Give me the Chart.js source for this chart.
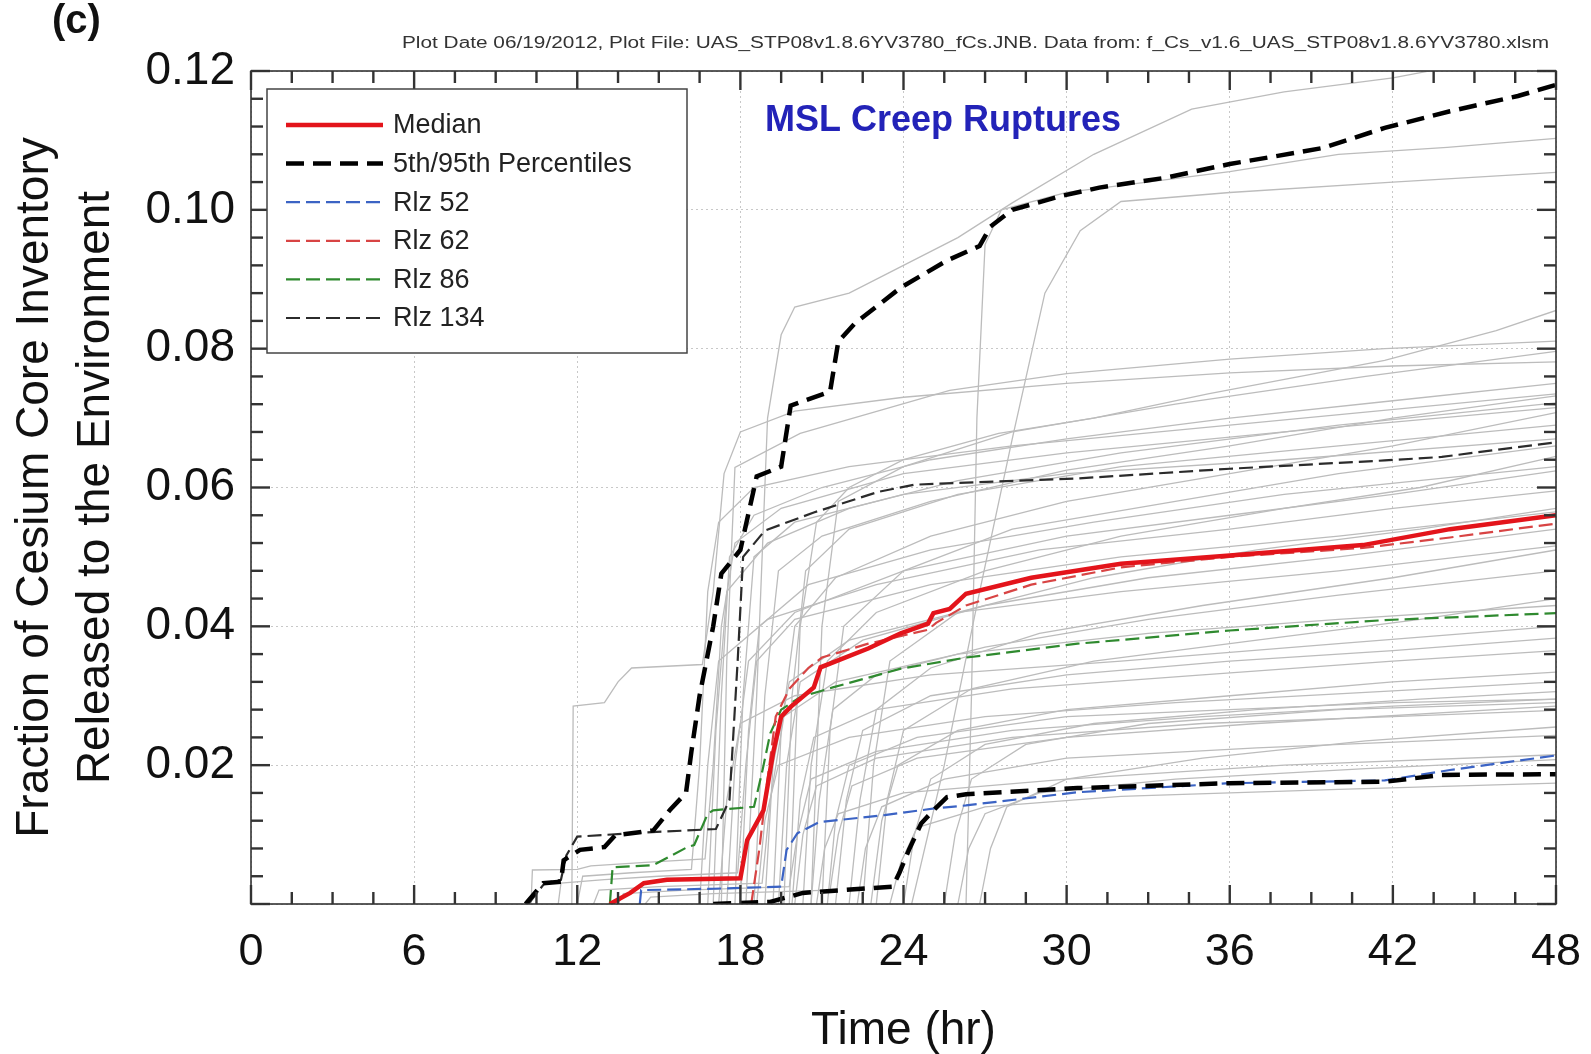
<!DOCTYPE html>
<html>
<head>
<meta charset="utf-8">
<title>MSL Creep Ruptures - Cesium release</title>
<script src="https://cdn.jsdelivr.net/npm/chart.js@4.4.1/dist/chart.umd.min.js"></script>
<style>
  html, body { margin: 0; padding: 0; background: #fff; }
  canvas { display: block; }
</style>
</head>
<body>
<canvas id="chart" width="1591" height="1054"></canvas>
<script>
// ==========================================
// DATA  (time in hr, fraction of Cs inventory released)
// ==========================================
const xTicks = [0, 6, 12, 18, 24, 30, 36, 42, 48];
const yTicks = [0.02, 0.04, 0.06, 0.08, 0.10, 0.12];

const median = [[13.2,0],[13.95,0.0016],[14.45,0.003],[15.3,0.0035],[18.0,0.0037],[18.25,0.0092],[18.85,0.0135],
  [19.2,0.0217],[19.5,0.027],[19.85,0.0284],[20.7,0.0312],[20.95,0.0341],[22.7,0.0368],[23.9,0.039],[24.9,0.0404],
  [25.1,0.0419],[25.7,0.0425],[26.3,0.0447],[28.7,0.047],[32.0,0.049],[36.0,0.0502],[40.9,0.0517],[44.1,0.054],[48,0.056]];

const pct95 = [[10.1,0],[10.75,0.003],[11.4,0.0032],[11.5,0.0063],[12.1,0.0078],[13.0,0.0082],[13.4,0.0099],[14.8,0.0106],
  [15.4,0.0135],[16.0,0.016],[16.2,0.022],[16.5,0.03],[17.0,0.04],[17.3,0.0476],[18.0,0.051],[18.6,0.0616],[19.5,0.063],
  [19.85,0.0718],[21.3,0.0738],[21.6,0.081],[22.2,0.0836],[23.9,0.0888],[25.6,0.0927],[26.8,0.0948],[27.2,0.0976],
  [28.0,0.100],[29.8,0.102],[31.2,0.1032],[33.6,0.1046],[36.0,0.1066],[38.4,0.1082],[39.4,0.1089],[41.7,0.1118],
  [44.1,0.1142],[46.6,0.1164],[48,0.118]];

const pct05 = [[17.0,0],[19.1,0.0003],[20.3,0.0016],[23.6,0.0025],[23.85,0.0045],[24.2,0.0078],[24.65,0.0116],[25.1,0.0135],
  [25.6,0.0154],[26.3,0.0158],[30.4,0.0167],[36,0.0174],[41.7,0.0176],[43.8,0.0186],[48,0.0187]];

const rlz52 = [[14.3,0],[14.35,0.002],[17,0.0022],[19.5,0.0025],[19.7,0.0078],[20.1,0.0102],[20.9,0.0118],[23.3,0.0128],
  [25.2,0.0138],[26.3,0.0142],[30.4,0.0161],[36.0,0.0174],[41.7,0.0178],[44.1,0.0193],[48,0.0214]];

const rlz62 = [[18.4,0],[18.7,0.008],[19.0,0.018],[19.3,0.027],[19.8,0.031],[20.5,0.034],[21,0.0355],[22.7,0.0375],
  [24.9,0.0395],[25.2,0.0405],[26.3,0.043],[28.7,0.046],[32,0.0485],[36,0.05],[40.9,0.0513],[44.1,0.0528],[48,0.0548]];

const rlz86 = [[13.2,0],[13.3,0.0053],[14.8,0.0056],[16.05,0.0082],[16.3,0.0085],[16.8,0.013],[17.0,0.0135],[18.5,0.014],
  [18.8,0.019],[19.1,0.0246],[19.5,0.028],[20.2,0.0298],[21.4,0.0312],[23.9,0.0339],[26.3,0.0355],[30.4,0.0375],
  [36.0,0.0394],[41.7,0.0409],[48,0.0419]];

const rlz134 = [[10.2,0],[10.8,0.003],[11.4,0.0035],[11.6,0.007],[12.0,0.0097],[14,0.0102],[17.1,0.0108],[17.6,0.015],
  [17.9,0.035],[18.1,0.05],[18.9,0.0538],[20.7,0.0564],[23.1,0.0594],[24.4,0.0604],[26.3,0.0607],[30.4,0.0613],
  [36,0.0627],[41.7,0.0639],[43.8,0.0644],[44.95,0.065],[48,0.0665]];

// other realizations (gray)
const grayRuns = [
  [[18.2,0],[18.6,0.03],[19.0,0.07],[19.5,0.082],[20,0.086],[22,0.088],[24,0.092],[26,0.096],[28,0.101],[31,0.108],[34.6,0.1145],[38,0.117],[42,0.119],[44,0.1205]],
  [[26.3,0],[26.5,0.03],[26.7,0.07],[27.0,0.095],[27.6,0.1],[30,0.1025],[36,0.1055],[40,0.108],[44,0.109],[48,0.1103]],
  [[24.3,0],[25.5,0.02],[26.8,0.045],[28,0.067],[29.2,0.088],[30.5,0.097],[32,0.1012],[36,0.1025],[42,0.104],[48,0.1054]],
  [[19.8,0],[20.2,0.04],[20.8,0.055],[22,0.06],[24,0.064],[27.5,0.0678],[31,0.07],[35.2,0.0735],[41.7,0.0783],[45.8,0.0826],[48,0.0855]],
  [[17.3,0],[17.5,0.035],[17.8,0.0629],[20.2,0.0678],[25.7,0.074],[30,0.0764],[36,0.0785],[41.7,0.08],[48,0.0811]],
  [[11.8,0],[11.85,0.0285],[13.0,0.029],[13.5,0.032],[14.0,0.034],[16.6,0.0345],[17.0,0.045],[17.4,0.062],[18,0.068],[20,0.071],[24,0.073],[30,0.075],[36,0.0765],[42,0.0775],[48,0.0781]],
  [[17.0,0],[17.3,0.03],[17.6,0.05],[18.5,0.056],[21,0.06],[25,0.064],[30,0.067],[36,0.07],[42,0.0725],[48,0.075]],
  [[18.5,0],[18.9,0.03],[19.4,0.048],[21,0.053],[25,0.058],[30,0.0625],[36,0.066],[42,0.07],[48,0.0732]],
  [[16.8,0],[17.1,0.025],[17.5,0.045],[19,0.052],[22,0.057],[26,0.061],[32,0.065],[40,0.069],[48,0.0722]],
  [[19.2,0],[19.5,0.025],[20,0.04],[21.5,0.047],[25,0.053],[30,0.058],[36,0.062],[42,0.066],[48,0.0708]],
  [[20.3,0],[20.6,0.02],[21.2,0.035],[23,0.042],[27,0.048],[32,0.053],[38,0.057],[43,0.06],[48,0.0645]],
  [[17.5,0],[17.8,0.02],[18.3,0.035],[20,0.042],[24,0.048],[30,0.053],[36,0.056],[42,0.059],[48,0.0624]],
  [[21,0],[21.3,0.025],[21.8,0.04],[24,0.048],[28,0.054],[34,0.058],[40,0.062],[48,0.066]],
  [[16.5,0],[16.8,0.02],[17.2,0.035],[19,0.041],[23,0.046],[29,0.051],[36,0.054],[42,0.057],[48,0.0595]],
  [[19.6,0],[19.9,0.03],[20.4,0.048],[22,0.054],[26,0.059],[32,0.063],[40,0.066],[48,0.069]],
  [[18.9,0],[19.2,0.02],[19.8,0.032],[22,0.038],[26,0.042],[32,0.045],[40,0.048],[48,0.0516]],
  [[22,0],[22.4,0.015],[23,0.028],[25,0.034],[29,0.039],[35,0.043],[42,0.047],[48,0.051]],
  [[20.6,0],[20.9,0.015],[21.4,0.028],[23,0.033],[27,0.037],[33,0.041],[40,0.0445],[48,0.048]],
  [[17.2,0],[17.5,0.015],[18,0.026],[20,0.03],[25,0.033],[32,0.035],[40,0.0375],[48,0.040]],
  [[21.5,0],[21.9,0.015],[22.5,0.025],[25,0.03],[30,0.033],[36,0.035],[42,0.0365],[48,0.0383]],
  [[19.9,0],[20.2,0.015],[20.7,0.024],[23,0.028],[28,0.031],[35,0.033],[42,0.035],[48,0.0365]],
  [[22.8,0],[23.2,0.012],[23.8,0.02],[26,0.025],[30,0.028],[36,0.03],[42,0.032],[48,0.0334]],
  [[18.6,0],[18.9,0.012],[19.4,0.02],[22,0.024],[27,0.027],[34,0.029],[41,0.0305],[48,0.032]],
  [[24,0],[24.4,0.01],[25,0.018],[27,0.023],[31,0.026],[37,0.028],[43,0.0295],[48,0.0306]],
  [[21.2,0],[21.5,0.012],[22,0.02],[24.5,0.024],[30,0.027],[36,0.028],[42,0.029],[48,0.0295]],
  [[25.5,0],[25.9,0.01],[26.5,0.018],[28.5,0.023],[33,0.026],[40,0.028],[48,0.029]],
  [[20.0,0],[20.3,0.01],[20.8,0.017],[23,0.021],[28,0.024],[35,0.026],[42,0.027],[48,0.0279]],
  [[22.3,0],[22.6,0.008],[23.2,0.014],[25.5,0.018],[30,0.021],[37,0.0225],[48,0.0243]],
  [[26.0,0],[26.4,0.008],[27,0.013],[29,0.016],[34,0.018],[41,0.0195],[48,0.0208]],
  [[23.5,0],[23.9,0.006],[24.5,0.011],[27,0.014],[32,0.0155],[40,0.0165],[48,0.0174]],
  [[20.8,0],[21.1,0.008],[21.6,0.013],[24,0.016],[30,0.018],[38,0.02],[48,0.0215]],
  [[18.0,0],[18.3,0.025],[18.7,0.04],[20.5,0.046],[25,0.051],[31,0.055],[38,0.059],[48,0.063]],
  [[17.8,0],[18.1,0.03],[18.5,0.05],[20,0.055],[24,0.059],[30,0.062],[38,0.064],[48,0.067]],
  [[20.6,0],[21,0.04],[21.6,0.058],[24,0.063],[28,0.068],[34,0.072],[41,0.076],[48,0.0796]],
  [[19.4,0],[19.7,0.02],[20.2,0.032],[22.5,0.038],[27,0.043],[33,0.047],[40,0.05],[48,0.054]],
  [[23,0],[23.4,0.015],[24,0.025],[26.5,0.031],[31,0.035],[37,0.038],[43,0.041],[48,0.044]],
  [[22.5,0],[22.9,0.02],[23.5,0.035],[26,0.042],[31,0.047],[37,0.051],[43,0.054],[48,0.057]],
  [[26.8,0],[27.2,0.008],[27.8,0.014],[30,0.018],[35,0.021],[41,0.0235],[48,0.0255]],
  [[10.3,0],[10.35,0.0049],[12,0.005],[12.5,0.0055],[14.5,0.006],[16.7,0.0065],[17.0,0.02],[17.3,0.04],[17.8,0.052],[19.5,0.057],[24,0.062],[30,0.065],[38,0.068],[48,0.0715]],
  [[11.3,0],[11.4,0.003],[13,0.0035],[15,0.004],[17.9,0.0045],[18.2,0.02],[18.6,0.035],[20,0.041],[25,0.046],[32,0.05],[40,0.053],[48,0.0565]],
  [[12.6,0],[12.8,0.002],[15,0.0025],[18.8,0.003],[19.1,0.015],[19.6,0.027],[21.5,0.032],[26,0.036],[33,0.039],[40,0.041],[48,0.043]],
  [[13.5,0],[13.7,0.0015],[16,0.002],[19.8,0.0025],[20.1,0.01],[20.6,0.018],[23,0.022],[28,0.025],[35,0.027],[42,0.0285],[48,0.0295]],
  [[14.5,0],[14.7,0.001],[17,0.0015],[21.3,0.002],[21.6,0.01],[22.1,0.017],[24.5,0.021],[30,0.024],[37,0.026],[48,0.0285]],
  [[12.0,0],[12.2,0.004],[14,0.0045],[16.2,0.005],[16.5,0.02],[16.8,0.045],[17.2,0.055],[18.5,0.06],[22,0.063],[28,0.066],[36,0.069],[48,0.0735]]
];

// ==========================================
// CHART
// ==========================================
const FONT = "'Liberation Sans', Arial, sans-serif";
const toXY = pts => pts.map(p => ({x: p[0], y: p[1]}));

function series(label, pts, color, width, dash, order) {
  return {
    label: label, data: toXY(pts), borderColor: color, borderWidth: width,
    borderDash: dash, pointRadius: 0, tension: 0, fill: false, order: order
  };
}

const highlighted = [
  series('Median', median, '#e3141b', 4.5, [], 0),
  series('5th/95th Percentiles', pct95, '#000000', 4.5, [18, 9], 1),
  series('Rlz 52', rlz52, '#3b63c4', 2.2, [14, 6], 2),
  series('Rlz 62', rlz62, '#d84444', 2.2, [14, 6], 2),
  series('Rlz 86', rlz86, '#2f8a2f', 2.2, [14, 6], 2),
  series('Rlz 134', rlz134, '#2b2b2b', 2.2, [14, 6], 2),
];
// lower percentile shares the legend entry of the upper one
const lowerPct = series('', pct05, '#000000', 4.5, [18, 9], 1);
const grays = grayRuns.map(r => series('', r, '#bcbcbc', 1.3, [], 10));

// frame with inward ticks on all four sides
const X_MINOR = 1.5, Y_MINOR = 0.004;
const frameTicks = {
  id: 'frameTicks',
  afterDatasetsDraw(chart) {
    const {ctx, chartArea: a, scales: {x, y}} = chart;
    ctx.save();
    ctx.strokeStyle = '#333';
    ctx.lineWidth = 2.4;
    const seg = (x1, y1, x2, y2) => { ctx.beginPath(); ctx.moveTo(x1, y1); ctx.lineTo(x2, y2); ctx.stroke(); };
    for (let i = 0; i * X_MINOR <= x.max + 1e-9; i++) {
      const px = x.getPixelForValue(i * X_MINOR);
      const len = (i % 4 === 0) ? 19 : 12;
      seg(px, a.bottom, px, a.bottom - len);
      seg(px, a.top, px, a.top + len);
    }
    for (let j = 0; j * Y_MINOR <= y.max + 1e-9; j++) {
      const py = y.getPixelForValue(j * Y_MINOR);
      const len = (j % 5 === 0) ? 19 : 12;
      seg(a.left, py, a.left + len, py);
      seg(a.right, py, a.right - len, py);
    }
    ctx.lineWidth = 1.6;
    ctx.strokeRect(a.left, a.top, a.right - a.left, a.bottom - a.top);

    // legend box
    const bx = a.left + 16, by = a.top + 18, bw = 420, bh = 264;
    ctx.fillStyle = '#fff';
    ctx.fillRect(bx, by, bw, bh);
    ctx.lineWidth = 1.5;
    ctx.strokeStyle = '#444';
    ctx.strokeRect(bx, by, bw, bh);
    ctx.font = '27px ' + FONT;
    ctx.textBaseline = 'middle';
    highlighted.forEach((ds, i) => {
      const ry = by + 36 + i * 38.6;
      ctx.strokeStyle = ds.borderColor;
      ctx.lineWidth = ds.borderWidth;
      ctx.setLineDash(ds.borderDash);
      seg(bx + 19, ry, bx + 116, ry);
      ctx.setLineDash([]);
      ctx.fillStyle = '#222';
      ctx.fillText(ds.label, bx + 126, ry + 1);
    });

    // in-plot title
    ctx.font = 'bold 36px ' + FONT;
    ctx.fillStyle = '#2323b8';
    ctx.textAlign = 'center';
    ctx.fillText('MSL Creep Ruptures', 943, 121);
    ctx.restore();
  },
  afterDraw(chart) {
    const ctx = chart.ctx;
    ctx.save();
    ctx.fillStyle = '#111';
    ctx.font = 'bold 40px ' + FONT;
    ctx.textBaseline = 'middle';
    ctx.fillText('(c)', 52, 22);
    // header note, stretched to the width it has in the original
    const note = 'Plot Date 06/19/2012, Plot File: UAS_STP08v1.8.6YV3780_fCs.JNB. Data from: f_Cs_v1.6_UAS_STP08v1.8.6YV3780.xlsm';
    ctx.font = '16px ' + FONT;
    ctx.fillStyle = '#333';
    const w = ctx.measureText(note).width;
    const sx = 1147 / w;
    ctx.translate(1549 - 1147, 44);
    ctx.scale(sx, 1);
    ctx.fillText(note, 0, 0);
    ctx.restore();
  }
};

const whiteBg = {
  id: 'whiteBg',
  beforeDraw(chart) {
    const ctx = chart.ctx;
    ctx.save();
    ctx.fillStyle = '#fff';
    ctx.fillRect(0, 0, chart.width, chart.height);
    ctx.restore();
  }
};

new Chart(document.getElementById('chart'), {
  type: 'line',
  data: { datasets: highlighted.concat([lowerPct], grays) },
  options: {
    responsive: false,
    animation: false,
    layout: { padding: { top: 71, right: 35, left: 0, bottom: 0 } },
    plugins: { legend: { display: false }, tooltip: { enabled: false } },
    scales: {
      x: {
        type: 'linear', min: 0, max: 48,
        afterBuildTicks: s => { s.ticks = xTicks.map(v => ({value: v})); },
        afterFit: s => { s.height = 150; s.paddingLeft = 0; s.paddingRight = 0; },
        ticks: { font: { size: 45, family: FONT }, color: '#111', padding: 22, maxRotation: 0 },
        grid: { color: '#c8c8c8', lineWidth: 1, drawTicks: false },
        border: { display: false, dash: [2, 3] },
        title: { display: true, text: 'Time (hr)', color: '#111',
                 font: { size: 46, family: FONT, lineHeight: 1.0 }, padding: { top: 0, bottom: 0 } }
      },
      y: {
        type: 'linear', min: 0, max: 0.12,
        afterBuildTicks: s => { s.ticks = [0].concat(yTicks).map(v => ({value: v})); },
        afterFit: s => { s.width = 251; s.paddingTop = 0; s.paddingBottom = 0; },
        ticks: { font: { size: 46, family: FONT }, color: '#111', padding: 16,
                 callback: v => v === 0 ? '' : v.toFixed(2) },
        grid: { color: '#c8c8c8', lineWidth: 1, drawTicks: false },
        border: { display: false, dash: [2, 3] },
        title: { display: true, text: ['Fraction of Cesium Core Inventory', 'Released to the Environment'],
                 color: '#111', font: { size: 46, family: FONT, lineHeight: 1.33 }, padding: { top: 5, bottom: 0 } }
      }
    }
  },
  plugins: [whiteBg, frameTicks]
});
</script>
</body>
</html>
